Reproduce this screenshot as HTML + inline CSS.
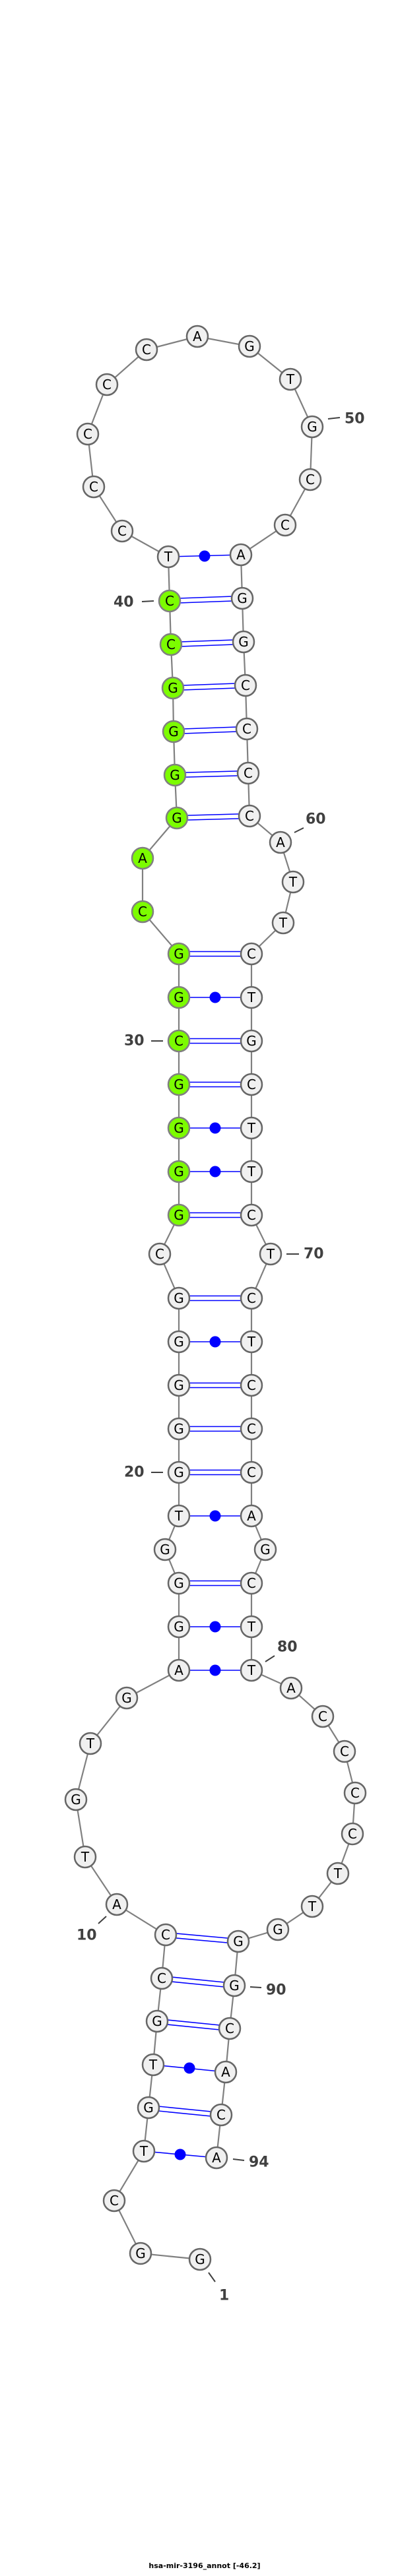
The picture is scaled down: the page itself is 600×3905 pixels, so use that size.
<!DOCTYPE html>
<html><head><meta charset="utf-8"><style>
html,body{margin:0;padding:0;background:#fff;}
svg{display:block;}
.bb{stroke:#808080;stroke-width:2.2;fill:none;}
.p{stroke:#0000ff;stroke-width:1.6;}
.n{fill:#f0f0f0;stroke:#666;stroke-width:2.5;}
.g{fill:#7cfc00;stroke:#808080;stroke-width:2.5;}
.t{font-family:"DejaVu Sans","Liberation Sans",sans-serif;font-size:20px;text-anchor:middle;dominant-baseline:central;fill:#000;}
.l{font-family:"DejaVu Sans","Liberation Sans",sans-serif;font-size:22px;font-weight:bold;fill:#404040;dominant-baseline:central;}
.k{stroke:#404040;stroke-width:2;}
</style></head><body>
<svg width="600" height="3905" viewBox="0 0 600 3905" xmlns="http://www.w3.org/2000/svg">
<polyline class="bb" points="303,3425 213,3416 173,3336 218,3261 225,3195 232,3130 238,3064 245,2999 251,2933 177,2887 129,2815 115,2728 137,2643 192,2574 271,2532 271,2466 271,2400 250,2349 271,2298 271,2232 271,2166 271,2100 271,2034 271,1968 242,1901 271,1842 271,1776 271,1710 271,1644 271,1578 271,1512 271,1446 216,1382 216,1301 268,1240 265,1175 263,1109 262,1043 259,977 257,911 255,844 185,805 142,738 133,658 162,583 222,530 299,510 378,525 440,575 473,647 470,727 432,796 365,841 367,907 369,973 372,1039 374,1105 376,1172 378,1237 425,1277 444,1337 429,1399 381,1446 381,1512 381,1578 381,1644 381,1710 381,1776 381,1842 410,1901 381,1968 381,2034 381,2100 381,2166 381,2232 381,2298 402,2349 381,2400 381,2466 381,2532 441,2559 489,2602 522,2655 538,2718 534,2780 512,2840 473,2890 421,2925 361,2943 355,3010 348,3075 342,3141 335,3206 328,3271"/>
<!-- double pairs -->
<g class="p">
<line x1="238" y1="3060.5" x2="348" y2="3071.5"/><line x1="238" y1="3067.5" x2="348" y2="3078.5"/>
<line x1="225" y1="3191.5" x2="335" y2="3202.5"/><line x1="225" y1="3198.5" x2="335" y2="3209.5"/>
<line x1="245" y1="2995.5" x2="355" y2="3006.5"/><line x1="245" y1="3002.5" x2="355" y2="3013.5"/>
<line x1="251" y1="2929.5" x2="361" y2="2939.5"/><line x1="251" y1="2936.5" x2="361" y2="2946.5"/>
<line x1="271" y1="2396.5" x2="381" y2="2396.5"/><line x1="271" y1="2403.5" x2="381" y2="2403.5"/>
<line x1="271" y1="2228.5" x2="381" y2="2228.5"/><line x1="271" y1="2235.5" x2="381" y2="2235.5"/>
<line x1="271" y1="2162.5" x2="381" y2="2162.5"/><line x1="271" y1="2169.5" x2="381" y2="2169.5"/>
<line x1="271" y1="2096.5" x2="381" y2="2096.5"/><line x1="271" y1="2103.5" x2="381" y2="2103.5"/>
<line x1="271" y1="1964.5" x2="381" y2="1964.5"/><line x1="271" y1="1971.5" x2="381" y2="1971.5"/>
<line x1="271" y1="1838.5" x2="381" y2="1838.5"/><line x1="271" y1="1845.5" x2="381" y2="1845.5"/>
<line x1="271" y1="1640.5" x2="381" y2="1640.5"/><line x1="271" y1="1647.5" x2="381" y2="1647.5"/>
<line x1="271" y1="1574.5" x2="381" y2="1574.5"/><line x1="271" y1="1581.5" x2="381" y2="1581.5"/>
<line x1="271" y1="1442.5" x2="381" y2="1442.5"/><line x1="271" y1="1449.5" x2="381" y2="1449.5"/>
<line x1="268" y1="1236.5" x2="378" y2="1233.5"/><line x1="268" y1="1243.5" x2="378" y2="1240.5"/>
<line x1="265" y1="1171.5" x2="376" y2="1168.5"/><line x1="265" y1="1178.5" x2="376" y2="1175.5"/>
<line x1="263" y1="1105.5" x2="374" y2="1101.5"/><line x1="263" y1="1112.5" x2="374" y2="1108.5"/>
<line x1="262" y1="1039.5" x2="372" y2="1035.5"/><line x1="262" y1="1046.5" x2="372" y2="1042.5"/>
<line x1="259" y1="973.5" x2="369" y2="969.5"/><line x1="259" y1="980.5" x2="369" y2="976.5"/>
<line x1="257" y1="907.5" x2="367" y2="903.5"/><line x1="257" y1="914.5" x2="367" y2="910.5"/>
<!-- single (dot) pairs -->
<line x1="218" y1="3261" x2="328" y2="3271"/>
<line x1="232" y1="3130" x2="342" y2="3141"/>
<line x1="271" y1="2532" x2="381" y2="2532"/>
<line x1="271" y1="2466" x2="381" y2="2466"/>
<line x1="271" y1="2298" x2="381" y2="2298"/>
<line x1="271" y1="2034" x2="381" y2="2034"/>
<line x1="271" y1="1776" x2="381" y2="1776"/>
<line x1="271" y1="1710" x2="381" y2="1710"/>
<line x1="271" y1="1512" x2="381" y2="1512"/>
<line x1="255" y1="844" x2="365" y2="841"/>
</g>
<g fill="#0000ff">
<circle cx="273" cy="3266" r="8.5"/><circle cx="287" cy="3135" r="8.5"/>
<circle cx="326" cy="2532" r="8.5"/><circle cx="326" cy="2466" r="8.5"/><circle cx="326" cy="2298" r="8.5"/>
<circle cx="326" cy="2034" r="8.5"/><circle cx="326" cy="1776" r="8.5"/><circle cx="326" cy="1710" r="8.5"/>
<circle cx="326" cy="1512" r="8.5"/><circle cx="310" cy="843" r="8.5"/>
</g>
<!-- label ticks -->
<g class="k">
<line x1="497" y1="635" x2="515" y2="633"/>
<line x1="215" y1="912" x2="233" y2="911"/>
<line x1="446" y1="1262" x2="460" y2="1255"/>
<line x1="229" y1="1578" x2="247" y2="1578"/>
<line x1="434" y1="1901" x2="453" y2="1901"/>
<line x1="229" y1="2232" x2="247" y2="2232"/>
<line x1="402" y1="2519" x2="416" y2="2510"/>
<line x1="149" y1="2916" x2="161" y2="2905"/>
<line x1="379" y1="3012" x2="396" y2="3013"/>
<line x1="353" y1="3273" x2="370" y2="3275"/>
<line x1="316" y1="3445" x2="326" y2="3459"/>
</g>
<g class="l">
<text x="522" y="635">50</text>
<text x="172" y="913">40</text>
<text x="463" y="1242">60</text>
<text x="188" y="1578">30</text>
<text x="460" y="1901">70</text>
<text x="188" y="2232">20</text>
<text x="420" y="2497">80</text>
<text x="116" y="2934">10</text>
<text x="403" y="3017">90</text>
<text x="377" y="3278">94</text>
<text x="332" y="3480">1</text>
</g>
<!-- nodes -->
<g>
<circle class="n" cx="303" cy="3425" r="16"/><text class="t" x="303" y="3425">G</text>
<circle class="n" cx="213" cy="3416" r="16"/><text class="t" x="213" y="3416">G</text>
<circle class="n" cx="173" cy="3336" r="16"/><text class="t" x="173" y="3336">C</text>
<circle class="n" cx="218" cy="3261" r="16"/><text class="t" x="218" y="3261">T</text>
<circle class="n" cx="225" cy="3195" r="16"/><text class="t" x="225" y="3195">G</text>
<circle class="n" cx="232" cy="3130" r="16"/><text class="t" x="232" y="3130">T</text>
<circle class="n" cx="238" cy="3064" r="16"/><text class="t" x="238" y="3064">G</text>
<circle class="n" cx="245" cy="2999" r="16"/><text class="t" x="245" y="2999">C</text>
<circle class="n" cx="251" cy="2933" r="16"/><text class="t" x="251" y="2933">C</text>
<circle class="n" cx="177" cy="2887" r="16"/><text class="t" x="177" y="2887">A</text>
<circle class="n" cx="129" cy="2815" r="16"/><text class="t" x="129" y="2815">T</text>
<circle class="n" cx="115" cy="2728" r="16"/><text class="t" x="115" y="2728">G</text>
<circle class="n" cx="137" cy="2643" r="16"/><text class="t" x="137" y="2643">T</text>
<circle class="n" cx="192" cy="2574" r="16"/><text class="t" x="192" y="2574">G</text>
<circle class="n" cx="271" cy="2532" r="16"/><text class="t" x="271" y="2532">A</text>
<circle class="n" cx="271" cy="2466" r="16"/><text class="t" x="271" y="2466">G</text>
<circle class="n" cx="271" cy="2400" r="16"/><text class="t" x="271" y="2400">G</text>
<circle class="n" cx="250" cy="2349" r="16"/><text class="t" x="250" y="2349">G</text>
<circle class="n" cx="271" cy="2298" r="16"/><text class="t" x="271" y="2298">T</text>
<circle class="n" cx="271" cy="2232" r="16"/><text class="t" x="271" y="2232">G</text>
<circle class="n" cx="271" cy="2166" r="16"/><text class="t" x="271" y="2166">G</text>
<circle class="n" cx="271" cy="2100" r="16"/><text class="t" x="271" y="2100">G</text>
<circle class="n" cx="271" cy="2034" r="16"/><text class="t" x="271" y="2034">G</text>
<circle class="n" cx="271" cy="1968" r="16"/><text class="t" x="271" y="1968">G</text>
<circle class="n" cx="242" cy="1901" r="16"/><text class="t" x="242" y="1901">C</text>
<circle class="g" cx="271" cy="1842" r="16"/><text class="t" x="271" y="1842">G</text>
<circle class="g" cx="271" cy="1776" r="16"/><text class="t" x="271" y="1776">G</text>
<circle class="g" cx="271" cy="1710" r="16"/><text class="t" x="271" y="1710">G</text>
<circle class="g" cx="271" cy="1644" r="16"/><text class="t" x="271" y="1644">G</text>
<circle class="g" cx="271" cy="1578" r="16"/><text class="t" x="271" y="1578">C</text>
<circle class="g" cx="271" cy="1512" r="16"/><text class="t" x="271" y="1512">G</text>
<circle class="g" cx="271" cy="1446" r="16"/><text class="t" x="271" y="1446">G</text>
<circle class="g" cx="216" cy="1382" r="16"/><text class="t" x="216" y="1382">C</text>
<circle class="g" cx="216" cy="1301" r="16"/><text class="t" x="216" y="1301">A</text>
<circle class="g" cx="268" cy="1240" r="16"/><text class="t" x="268" y="1240">G</text>
<circle class="g" cx="265" cy="1175" r="16"/><text class="t" x="265" y="1175">G</text>
<circle class="g" cx="263" cy="1109" r="16"/><text class="t" x="263" y="1109">G</text>
<circle class="g" cx="262" cy="1043" r="16"/><text class="t" x="262" y="1043">G</text>
<circle class="g" cx="259" cy="977" r="16"/><text class="t" x="259" y="977">C</text>
<circle class="g" cx="257" cy="911" r="16"/><text class="t" x="257" y="911">C</text>
<circle class="n" cx="255" cy="844" r="16"/><text class="t" x="255" y="844">T</text>
<circle class="n" cx="185" cy="805" r="16"/><text class="t" x="185" y="805">C</text>
<circle class="n" cx="142" cy="738" r="16"/><text class="t" x="142" y="738">C</text>
<circle class="n" cx="133" cy="658" r="16"/><text class="t" x="133" y="658">C</text>
<circle class="n" cx="162" cy="583" r="16"/><text class="t" x="162" y="583">C</text>
<circle class="n" cx="222" cy="530" r="16"/><text class="t" x="222" y="530">C</text>
<circle class="n" cx="299" cy="510" r="16"/><text class="t" x="299" y="510">A</text>
<circle class="n" cx="378" cy="525" r="16"/><text class="t" x="378" y="525">G</text>
<circle class="n" cx="440" cy="575" r="16"/><text class="t" x="440" y="575">T</text>
<circle class="n" cx="473" cy="647" r="16"/><text class="t" x="473" y="647">G</text>
<circle class="n" cx="470" cy="727" r="16"/><text class="t" x="470" y="727">C</text>
<circle class="n" cx="432" cy="796" r="16"/><text class="t" x="432" y="796">C</text>
<circle class="n" cx="365" cy="841" r="16"/><text class="t" x="365" y="841">A</text>
<circle class="n" cx="367" cy="907" r="16"/><text class="t" x="367" y="907">G</text>
<circle class="n" cx="369" cy="973" r="16"/><text class="t" x="369" y="973">G</text>
<circle class="n" cx="372" cy="1039" r="16"/><text class="t" x="372" y="1039">C</text>
<circle class="n" cx="374" cy="1105" r="16"/><text class="t" x="374" y="1105">C</text>
<circle class="n" cx="376" cy="1172" r="16"/><text class="t" x="376" y="1172">C</text>
<circle class="n" cx="378" cy="1237" r="16"/><text class="t" x="378" y="1237">C</text>
<circle class="n" cx="425" cy="1277" r="16"/><text class="t" x="425" y="1277">A</text>
<circle class="n" cx="444" cy="1337" r="16"/><text class="t" x="444" y="1337">T</text>
<circle class="n" cx="429" cy="1399" r="16"/><text class="t" x="429" y="1399">T</text>
<circle class="n" cx="381" cy="1446" r="16"/><text class="t" x="381" y="1446">C</text>
<circle class="n" cx="381" cy="1512" r="16"/><text class="t" x="381" y="1512">T</text>
<circle class="n" cx="381" cy="1578" r="16"/><text class="t" x="381" y="1578">G</text>
<circle class="n" cx="381" cy="1644" r="16"/><text class="t" x="381" y="1644">C</text>
<circle class="n" cx="381" cy="1710" r="16"/><text class="t" x="381" y="1710">T</text>
<circle class="n" cx="381" cy="1776" r="16"/><text class="t" x="381" y="1776">T</text>
<circle class="n" cx="381" cy="1842" r="16"/><text class="t" x="381" y="1842">C</text>
<circle class="n" cx="410" cy="1901" r="16"/><text class="t" x="410" y="1901">T</text>
<circle class="n" cx="381" cy="1968" r="16"/><text class="t" x="381" y="1968">C</text>
<circle class="n" cx="381" cy="2034" r="16"/><text class="t" x="381" y="2034">T</text>
<circle class="n" cx="381" cy="2100" r="16"/><text class="t" x="381" y="2100">C</text>
<circle class="n" cx="381" cy="2166" r="16"/><text class="t" x="381" y="2166">C</text>
<circle class="n" cx="381" cy="2232" r="16"/><text class="t" x="381" y="2232">C</text>
<circle class="n" cx="381" cy="2298" r="16"/><text class="t" x="381" y="2298">A</text>
<circle class="n" cx="402" cy="2349" r="16"/><text class="t" x="402" y="2349">G</text>
<circle class="n" cx="381" cy="2400" r="16"/><text class="t" x="381" y="2400">C</text>
<circle class="n" cx="381" cy="2466" r="16"/><text class="t" x="381" y="2466">T</text>
<circle class="n" cx="381" cy="2532" r="16"/><text class="t" x="381" y="2532">T</text>
<circle class="n" cx="441" cy="2559" r="16"/><text class="t" x="441" y="2559">A</text>
<circle class="n" cx="489" cy="2602" r="16"/><text class="t" x="489" y="2602">C</text>
<circle class="n" cx="522" cy="2655" r="16"/><text class="t" x="522" y="2655">C</text>
<circle class="n" cx="538" cy="2718" r="16"/><text class="t" x="538" y="2718">C</text>
<circle class="n" cx="534" cy="2780" r="16"/><text class="t" x="534" y="2780">C</text>
<circle class="n" cx="512" cy="2840" r="16"/><text class="t" x="512" y="2840">T</text>
<circle class="n" cx="473" cy="2890" r="16"/><text class="t" x="473" y="2890">T</text>
<circle class="n" cx="421" cy="2925" r="16"/><text class="t" x="421" y="2925">G</text>
<circle class="n" cx="361" cy="2943" r="16"/><text class="t" x="361" y="2943">G</text>
<circle class="n" cx="355" cy="3010" r="16"/><text class="t" x="355" y="3010">G</text>
<circle class="n" cx="348" cy="3075" r="16"/><text class="t" x="348" y="3075">C</text>
<circle class="n" cx="342" cy="3141" r="16"/><text class="t" x="342" y="3141">A</text>
<circle class="n" cx="335" cy="3206" r="16"/><text class="t" x="335" y="3206">C</text>
<circle class="n" cx="328" cy="3271" r="16"/><text class="t" x="328" y="3271">A</text>
</g>
<text x="310" y="3893" text-anchor="middle" style="font-family:'DejaVu Sans','Liberation Sans',sans-serif;font-size:11px;font-weight:bold;fill:#000;">hsa-mir-3196_annot [-46.2]</text>
</svg>
</body></html>
